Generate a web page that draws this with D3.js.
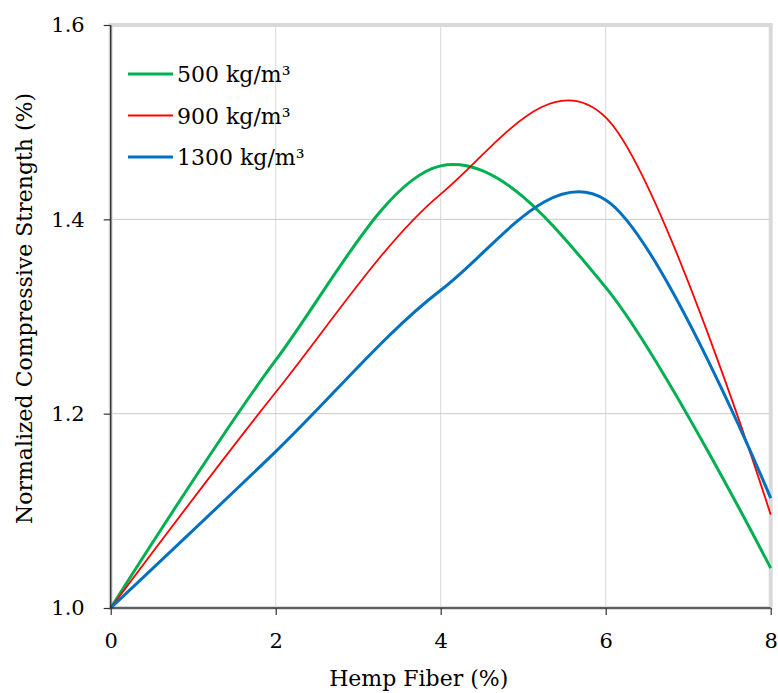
<!DOCTYPE html>
<html><head><meta charset="utf-8">
<script src="https://cdn.jsdelivr.net/npm/d3@7"></script>
<style>body{margin:0;background:#fff}svg{display:block}text{font-family:"DejaVu Serif",serif;fill:#000}</style>
</head><body><svg id="c" width="778" height="693"></svg>
<script>
const fiber = [0, 2, 4, 6, 8];
const s500 = [1.0, 1.255, 1.455, 1.330, 1.041];
const s900 = [1.0, 1.222, 1.426, 1.505, 1.096];
const s1300 = [1.0, 1.161, 1.327, 1.420, 1.113];
const seriesNames = ["500 kg/m³", "900 kg/m³", "1300 kg/m³"];
const xTicks = [0, 2, 4, 6, 8];
const yTicks = [1.0, 1.2, 1.4, 1.6];

const series = [
  {name: seriesNames[0], vals: s500, color: "#00b050", w: 3},
  {name: seriesNames[1], vals: s900, color: "#ff0000", w: 1.8},
  {name: seriesNames[2], vals: s1300, color: "#0070c0", w: 3}
];

const FS = "22px", TFS = "21px";
const svg = d3.select("#c");
const L = 110.7, R = 770.7, T = 25, B = 608;
const x = d3.scaleLinear().domain([0, 8]).range([L, R]);
const y = d3.scaleLinear().domain([1.0, 1.6]).range([B, T]);

// gridlines
svg.append("g").selectAll("line").data(xTicks.slice(1, -1)).join("line")
  .attr("x1", d => x(d)).attr("x2", d => x(d)).attr("y1", T).attr("y2", B)
  .attr("stroke", "#d9d9d9").attr("stroke-width", 1);
svg.append("g").selectAll("line").data(yTicks.slice(1, -1)).join("line")
  .attr("x1", L).attr("x2", R).attr("y1", d => y(d)).attr("y2", d => y(d))
  .attr("stroke", "#c8c8c8").attr("stroke-width", 1);

// plot area border
svg.append("rect").attr("x", L).attr("y", T).attr("width", R - L).attr("height", B - T)
  .attr("fill", "none").attr("stroke", "#d9d9d9").attr("stroke-width", 4);

// lines
const line = d3.line().x((d, i) => x(fiber[i])).y(d => y(d)).curve(d3.curveCatmullRom.alpha(0));
series.forEach(s => {
  svg.append("path").attr("d", line(s.vals)).attr("fill", "none")
    .attr("stroke", s.color).attr("stroke-width", s.w);
});

// axes
const xAxis = d3.axisBottom(x).tickValues(xTicks).tickFormat(d3.format("d")).tickSize(7).tickPadding(18);
const yAxis = d3.axisLeft(y).tickValues(yTicks).tickFormat(d3.format(".1f")).tickSize(7).tickPadding(19);
const gx = svg.append("g").attr("transform", `translate(0,${B})`).call(xAxis);
const gy = svg.append("g").attr("transform", `translate(${L},0)`).call(yAxis);
[gx, gy].forEach(g => {
  g.select(".domain").attr("stroke", "#333").attr("stroke-width", 1.5);
  g.selectAll(".tick line").attr("stroke", "#333").attr("stroke-width", 1.2);
  g.selectAll(".tick text").style("font-size", TFS).style("font-family", '"DejaVu Serif",serif').attr("fill", "#000");
});
gx.select(".domain").attr("d", `M${L},0H${R}`);
gy.select(".domain").attr("d", `M0,${B}V${T}`);

// axis titles
svg.append("text").attr("x", (L + R) / 2 - 22).attr("y", 686).attr("text-anchor", "middle")
  .style("font-size", FS).text("Hemp Fiber (%)");
svg.append("text").attr("transform", `translate(32,${(T + B) / 2 - 8}) rotate(-90)`).attr("text-anchor", "middle")
  .style("font-size", FS).text("Normalized Compressive Strength (%)");

// legend
const lg = svg.append("g");
series.forEach((s, i) => {
  const yy = 74 + i * 41.5;
  lg.append("line").attr("x1", 128).attr("x2", 173).attr("y1", yy).attr("y2", yy)
    .attr("stroke", s.color).attr("stroke-width", s.w);
  lg.append("text").attr("x", 177).attr("y", yy + 8).style("font-size", FS).text(s.name);
});
</script></body></html>
